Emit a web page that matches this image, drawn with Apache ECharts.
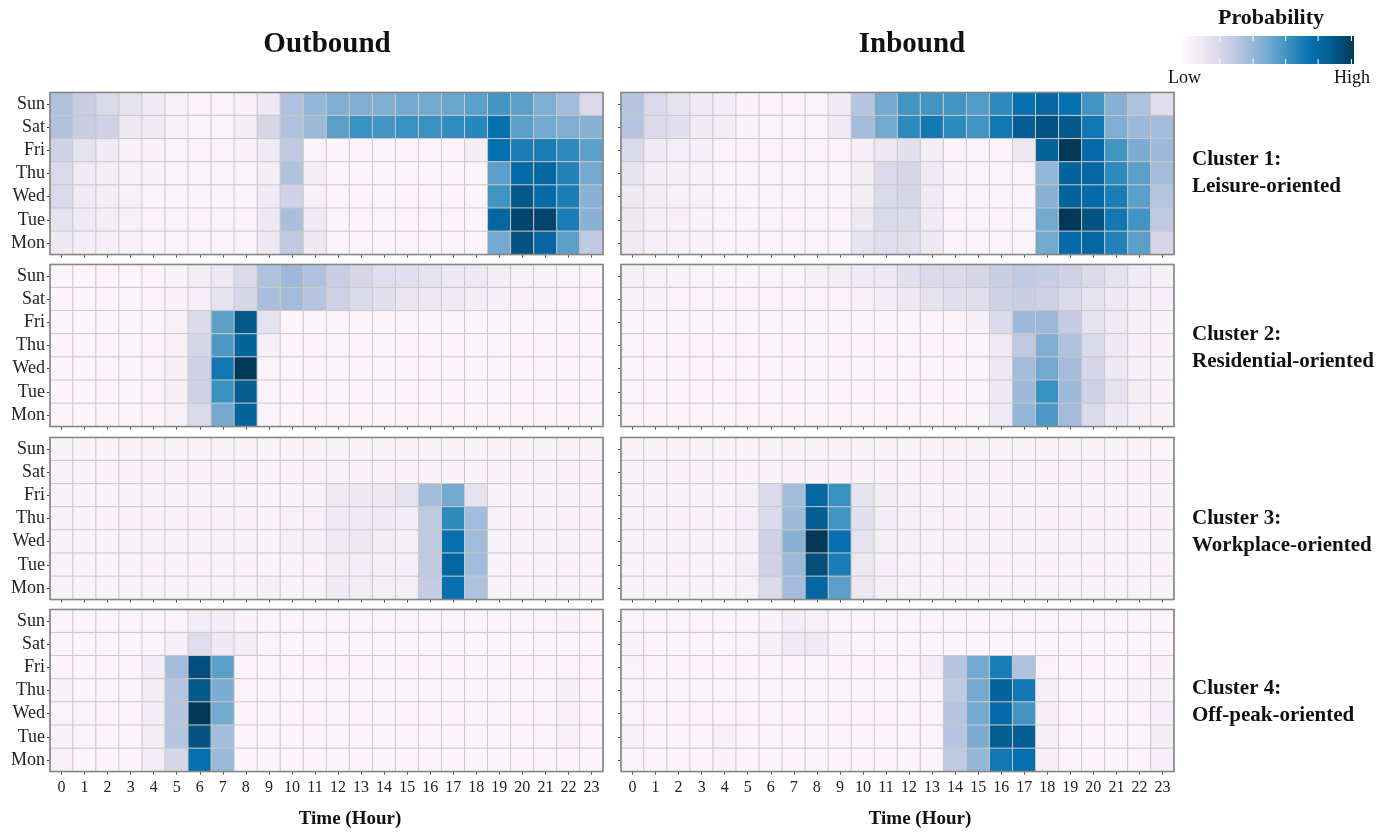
<!DOCTYPE html>
<html><head><meta charset="utf-8">
<script src="https://cdn.jsdelivr.net/npm/echarts@6/dist/echarts.min.js"></script>
<style>html,body{margin:0;padding:0;background:#fff}#c{width:1391px;height:834px}</style>
</head><body><div id="c"></div>
<script>
const hours = ['0','1','2','3','4','5','6','7','8','9','10','11','12','13','14','15','16','17','18','19','20','21','22','23'];
const days = ['Mon','Tue','Wed','Thu','Fri','Sat','Sun'];
const columnTitles = ['Outbound','Inbound'];
const clusterNames = [['Cluster 1:','Leisure-oriented'],['Cluster 2:','Residential-oriented'],['Cluster 3:','Workplace-oriented'],['Cluster 4:','Off-peak-oriented']];
const legendTitle = 'Probability';
const legendLabels = ['Low','High'];
const axisTitle = 'Time (Hour)';

// relative probability (0 = low, 1 = high); rows top to bottom: Sun, Sat, Fri, Thu, Wed, Tue, Mon
const c1Out = [
 [0.35,0.27,0.2,0.15,0.1,0.05,0.03,0.03,0.05,0.12,0.35,0.42,0.47,0.47,0.47,0.5,0.5,0.52,0.55,0.6,0.55,0.47,0.38,0.2],
 [0.35,0.27,0.25,0.12,0.1,0.05,0.03,0.03,0.08,0.22,0.35,0.4,0.55,0.62,0.6,0.62,0.62,0.64,0.66,0.75,0.55,0.5,0.47,0.45],
 [0.25,0.15,0.1,0.05,0.04,0.03,0.03,0.03,0.04,0.1,0.3,0.03,0.02,0.02,0.02,0.02,0.02,0.02,0.08,0.75,0.7,0.7,0.65,0.55],
 [0.2,0.1,0.08,0.05,0.04,0.03,0.03,0.03,0.03,0.08,0.35,0.08,0.02,0.02,0.02,0.02,0.02,0.02,0.02,0.55,0.78,0.8,0.68,0.5],
 [0.2,0.1,0.08,0.05,0.03,0.03,0.03,0.03,0.03,0.1,0.25,0.05,0.02,0.02,0.02,0.02,0.02,0.02,0.02,0.6,0.88,0.78,0.7,0.45],
 [0.15,0.1,0.08,0.05,0.03,0.03,0.03,0.03,0.03,0.12,0.37,0.1,0.02,0.02,0.02,0.02,0.02,0.02,0.02,0.8,0.95,0.95,0.7,0.45],
 [0.12,0.08,0.06,0.05,0.03,0.03,0.03,0.03,0.03,0.12,0.3,0.12,0.02,0.02,0.02,0.02,0.02,0.02,0.02,0.5,0.9,0.8,0.55,0.3]
];
const c1In = [
 [0.33,0.2,0.15,0.1,0.08,0.04,0.03,0.03,0.03,0.1,0.33,0.5,0.6,0.6,0.6,0.57,0.65,0.75,0.8,0.75,0.6,0.45,0.35,0.18],
 [0.33,0.2,0.17,0.1,0.08,0.04,0.03,0.03,0.03,0.1,0.38,0.5,0.65,0.72,0.65,0.6,0.72,0.85,0.9,0.88,0.72,0.47,0.4,0.38],
 [0.2,0.1,0.07,0.06,0.03,0.03,0.03,0.03,0.03,0.03,0.06,0.12,0.17,0.08,0.03,0.03,0.03,0.12,0.82,1.0,0.78,0.6,0.48,0.4],
 [0.15,0.08,0.06,0.05,0.03,0.03,0.03,0.03,0.03,0.03,0.08,0.2,0.22,0.1,0.04,0.03,0.03,0.03,0.42,0.82,0.8,0.65,0.55,0.38],
 [0.12,0.08,0.05,0.05,0.03,0.03,0.03,0.03,0.03,0.03,0.08,0.2,0.22,0.1,0.03,0.03,0.03,0.03,0.45,0.82,0.78,0.7,0.55,0.33],
 [0.12,0.07,0.05,0.04,0.03,0.03,0.03,0.03,0.03,0.03,0.12,0.2,0.2,0.1,0.03,0.03,0.03,0.03,0.5,1.0,0.9,0.72,0.6,0.3],
 [0.1,0.06,0.05,0.04,0.03,0.03,0.03,0.03,0.03,0.03,0.15,0.18,0.18,0.12,0.03,0.03,0.03,0.03,0.5,0.78,0.8,0.68,0.55,0.22]
];
const c2Out = [
 [0.02,0.02,0.02,0.02,0.02,0.04,0.08,0.12,0.2,0.35,0.4,0.35,0.27,0.22,0.18,0.17,0.15,0.12,0.12,0.08,0.05,0.04,0.03,0.03],
 [0.02,0.02,0.02,0.02,0.02,0.04,0.06,0.15,0.22,0.37,0.38,0.33,0.25,0.2,0.17,0.13,0.12,0.1,0.08,0.06,0.05,0.04,0.03,0.03],
 [0.02,0.02,0.02,0.02,0.02,0.05,0.2,0.55,0.88,0.15,0.02,0.02,0.02,0.02,0.02,0.02,0.02,0.02,0.02,0.02,0.02,0.02,0.02,0.02],
 [0.02,0.02,0.02,0.02,0.02,0.05,0.22,0.58,0.82,0.06,0.02,0.02,0.02,0.02,0.02,0.02,0.02,0.02,0.02,0.02,0.02,0.02,0.02,0.02],
 [0.02,0.02,0.02,0.02,0.03,0.06,0.25,0.72,1.0,0.03,0.02,0.02,0.02,0.02,0.02,0.02,0.02,0.02,0.02,0.02,0.02,0.02,0.02,0.02],
 [0.02,0.02,0.02,0.02,0.03,0.06,0.25,0.62,0.85,0.03,0.02,0.02,0.02,0.02,0.02,0.02,0.02,0.02,0.02,0.02,0.02,0.02,0.02,0.02],
 [0.02,0.02,0.02,0.02,0.02,0.05,0.2,0.5,0.82,0.03,0.02,0.02,0.02,0.02,0.02,0.02,0.02,0.02,0.02,0.02,0.02,0.02,0.02,0.02]
];
const c2In = [
 [0.06,0.05,0.04,0.03,0.03,0.03,0.03,0.03,0.06,0.08,0.1,0.12,0.17,0.2,0.2,0.22,0.27,0.3,0.28,0.25,0.2,0.15,0.1,0.06],
 [0.05,0.04,0.03,0.03,0.03,0.03,0.03,0.03,0.03,0.03,0.05,0.08,0.12,0.15,0.17,0.18,0.25,0.27,0.25,0.2,0.15,0.12,0.08,0.06],
 [0.02,0.02,0.02,0.02,0.02,0.02,0.02,0.02,0.02,0.02,0.02,0.02,0.02,0.02,0.02,0.06,0.2,0.4,0.4,0.28,0.15,0.1,0.06,0.04],
 [0.02,0.02,0.02,0.02,0.02,0.02,0.02,0.02,0.02,0.02,0.02,0.02,0.02,0.02,0.02,0.03,0.1,0.3,0.47,0.35,0.2,0.12,0.06,0.04],
 [0.02,0.02,0.02,0.02,0.02,0.02,0.02,0.02,0.02,0.02,0.02,0.02,0.02,0.02,0.02,0.03,0.12,0.38,0.5,0.38,0.22,0.12,0.06,0.04],
 [0.03,0.02,0.02,0.02,0.02,0.02,0.02,0.02,0.02,0.02,0.02,0.02,0.02,0.02,0.02,0.03,0.12,0.4,0.62,0.4,0.25,0.15,0.08,0.04],
 [0.02,0.02,0.02,0.02,0.02,0.02,0.02,0.02,0.02,0.02,0.02,0.02,0.02,0.02,0.02,0.03,0.1,0.42,0.58,0.38,0.2,0.12,0.06,0.04]
];
const c3Out = [
 [0.04,0.04,0.04,0.04,0.04,0.04,0.04,0.04,0.04,0.04,0.04,0.04,0.04,0.04,0.04,0.04,0.04,0.04,0.04,0.04,0.04,0.04,0.04,0.04],
 [0.04,0.04,0.04,0.04,0.04,0.04,0.04,0.04,0.04,0.04,0.04,0.04,0.04,0.04,0.04,0.04,0.04,0.04,0.04,0.04,0.04,0.04,0.04,0.04],
 [0.04,0.04,0.04,0.04,0.04,0.04,0.04,0.04,0.04,0.04,0.04,0.04,0.1,0.12,0.12,0.15,0.38,0.5,0.15,0.04,0.04,0.04,0.04,0.04],
 [0.04,0.04,0.04,0.04,0.04,0.04,0.04,0.04,0.04,0.04,0.05,0.05,0.1,0.1,0.1,0.08,0.3,0.65,0.38,0.04,0.04,0.04,0.04,0.04],
 [0.04,0.04,0.04,0.04,0.04,0.04,0.04,0.04,0.04,0.04,0.06,0.06,0.1,0.12,0.08,0.07,0.3,0.75,0.38,0.04,0.04,0.04,0.04,0.04],
 [0.04,0.04,0.04,0.04,0.04,0.04,0.04,0.04,0.04,0.04,0.04,0.04,0.08,0.08,0.07,0.07,0.3,0.8,0.38,0.04,0.04,0.04,0.04,0.04],
 [0.04,0.04,0.04,0.04,0.04,0.04,0.04,0.04,0.04,0.06,0.04,0.04,0.1,0.08,0.07,0.07,0.28,0.75,0.35,0.04,0.04,0.04,0.04,0.04]
];
const c3In = [
 [0.04,0.04,0.04,0.04,0.04,0.04,0.04,0.04,0.04,0.04,0.04,0.04,0.04,0.04,0.04,0.04,0.04,0.04,0.04,0.04,0.04,0.04,0.04,0.03],
 [0.04,0.04,0.04,0.04,0.04,0.04,0.04,0.04,0.04,0.04,0.04,0.04,0.04,0.04,0.04,0.04,0.04,0.04,0.04,0.04,0.04,0.04,0.04,0.04],
 [0.04,0.04,0.04,0.04,0.04,0.06,0.2,0.38,0.8,0.62,0.15,0.08,0.06,0.04,0.04,0.04,0.04,0.04,0.04,0.04,0.04,0.04,0.04,0.04],
 [0.04,0.04,0.04,0.04,0.04,0.06,0.2,0.4,0.85,0.6,0.17,0.08,0.06,0.05,0.04,0.04,0.04,0.04,0.04,0.04,0.04,0.04,0.04,0.04],
 [0.04,0.04,0.04,0.04,0.04,0.06,0.25,0.45,1.0,0.75,0.15,0.07,0.06,0.04,0.04,0.04,0.04,0.04,0.04,0.04,0.04,0.04,0.04,0.04],
 [0.04,0.04,0.04,0.04,0.04,0.06,0.25,0.4,0.92,0.7,0.12,0.06,0.05,0.04,0.04,0.04,0.04,0.04,0.04,0.04,0.04,0.04,0.04,0.04],
 [0.04,0.04,0.04,0.04,0.04,0.05,0.2,0.38,0.8,0.55,0.12,0.06,0.05,0.04,0.04,0.04,0.04,0.04,0.04,0.04,0.04,0.04,0.04,0.04]
];
const c4Out = [
 [0.02,0.02,0.02,0.02,0.02,0.03,0.08,0.08,0.04,0.03,0.02,0.02,0.02,0.02,0.02,0.02,0.02,0.02,0.02,0.02,0.02,0.02,0.04,0.02],
 [0.02,0.02,0.02,0.02,0.02,0.06,0.18,0.12,0.08,0.03,0.02,0.02,0.02,0.02,0.02,0.02,0.02,0.02,0.02,0.02,0.02,0.02,0.02,0.02],
 [0.02,0.02,0.02,0.02,0.08,0.38,0.92,0.55,0.02,0.02,0.02,0.02,0.02,0.02,0.02,0.02,0.02,0.02,0.02,0.02,0.02,0.02,0.02,0.02],
 [0.04,0.02,0.02,0.02,0.08,0.33,0.88,0.48,0.02,0.02,0.02,0.02,0.02,0.02,0.02,0.02,0.02,0.02,0.02,0.02,0.02,0.02,0.06,0.02],
 [0.03,0.03,0.02,0.02,0.08,0.33,1.0,0.5,0.02,0.02,0.02,0.02,0.02,0.02,0.02,0.02,0.02,0.02,0.02,0.02,0.02,0.02,0.05,0.02],
 [0.04,0.03,0.02,0.02,0.08,0.33,0.9,0.38,0.02,0.02,0.02,0.02,0.02,0.02,0.02,0.02,0.02,0.02,0.02,0.02,0.02,0.02,0.05,0.02],
 [0.05,0.02,0.02,0.02,0.08,0.22,0.75,0.4,0.02,0.02,0.02,0.02,0.02,0.02,0.02,0.02,0.02,0.02,0.02,0.02,0.02,0.02,0.02,0.02]
];
const c4In = [
 [0.02,0.02,0.02,0.02,0.02,0.02,0.04,0.08,0.05,0.02,0.02,0.02,0.02,0.02,0.02,0.02,0.02,0.02,0.02,0.02,0.02,0.02,0.02,0.02],
 [0.04,0.02,0.02,0.02,0.02,0.03,0.06,0.1,0.1,0.04,0.02,0.02,0.02,0.02,0.02,0.02,0.02,0.02,0.02,0.02,0.02,0.02,0.02,0.02],
 [0.03,0.02,0.02,0.02,0.02,0.02,0.02,0.02,0.02,0.02,0.02,0.02,0.02,0.08,0.33,0.5,0.7,0.35,0.03,0.02,0.02,0.02,0.02,0.04],
 [0.03,0.02,0.02,0.02,0.02,0.02,0.02,0.02,0.02,0.02,0.02,0.02,0.02,0.02,0.3,0.5,0.82,0.72,0.06,0.02,0.02,0.02,0.04,0.05],
 [0.03,0.02,0.02,0.02,0.02,0.02,0.02,0.02,0.02,0.02,0.02,0.02,0.02,0.02,0.33,0.5,0.78,0.6,0.06,0.02,0.02,0.02,0.02,0.06],
 [0.05,0.02,0.02,0.02,0.05,0.02,0.02,0.02,0.02,0.02,0.02,0.02,0.02,0.02,0.33,0.48,0.85,0.85,0.06,0.02,0.02,0.02,0.03,0.08],
 [0.03,0.02,0.02,0.02,0.04,0.02,0.02,0.02,0.02,0.02,0.02,0.02,0.02,0.02,0.3,0.42,0.72,0.75,0.06,0.02,0.02,0.02,0.02,0.06]
];
const panels = [[c1Out, c1In], [c2Out, c2In], [c3Out, c3In], [c4Out, c4In]];
const PuBu = ['#fff7fb','#ece7f2','#d0d1e6','#a6bddb','#74a9cf','#3690c0','#0570b0','#045a8d','#023858'];

const F = '"Liberation Serif","Times New Roman",serif';
const gridTops = [92.5, 264.5, 437.5, 609.5];
const gridH = 162;
const gridLefts = [50, 621];
const gridW = 553;

const grid = [], xAxis = [], yAxis = [], series = [];
let k = 0;
for (let i = 0; i < 4; i++) {
  for (let j = 0; j < 2; j++) {
    grid.push({left: gridLefts[j], top: gridTops[i], width: gridW, height: gridH,
      show: true, borderColor: '#858585', borderWidth: 1.6, backgroundColor: 'transparent', z: 10});
    const last = i === 3;
    xAxis.push({type: 'category', gridIndex: k, data: hours, position: 'bottom',
      axisLine: {show: false},
      axisTick: {show: true, alignWithLabel: true, interval: 0, length: 3, lineStyle: {color: '#444', width: 1}},
      axisLabel: {show: last, interval: 0, fontFamily: F, fontSize: 16, color: '#222', margin: 8},
      splitLine: {show: false}});
    yAxis.push({type: 'category', gridIndex: k, data: days,
      axisLine: {show: false},
      axisTick: {show: true, alignWithLabel: true, interval: 0, length: 3, lineStyle: {color: '#444', width: 1}},
      axisLabel: {show: j === 0, interval: 0, fontFamily: F, fontSize: 18, color: '#222', margin: 5},
      splitLine: {show: false}});
    const rows = panels[i][j];
    const data = [];
    rows.forEach((row, r) => row.forEach((v, h) => data.push([h, 6 - r, v])));
    series.push({type: 'heatmap', xAxisIndex: k, yAxisIndex: k, data: data,
      itemStyle: {borderColor: '#c8c8c8', borderWidth: 1},
      emphasis: {disabled: true}, silent: true});
    k++;
  }
}

function txt(s, x, y, size, bold, align) {
  return {type: 'text', x: x, y: y, style: {text: s, fontFamily: F, fontSize: size,
    fontWeight: bold ? 'bold' : 'normal', fill: '#111',
    align: align, textAlign: align, verticalAlign: 'middle', textVerticalAlign: 'middle'}};
}
const graphic = [];
const titleX = [327, 912];
columnTitles.forEach((t, j) => graphic.push(txt(t, titleX[j], 45, 29, true, 'center')));
const axisTitleX = [350, 920];
axisTitleX.forEach(x => graphic.push(txt(axisTitle, x, 819, 19, true, 'center')));
const clusterY = [160, 335, 519, 689];
clusterNames.forEach((c, i) => {
  graphic.push(txt(c[0], 1192, clusterY[i], 21, true, 'left'));
  graphic.push(txt(c[1], 1192, clusterY[i] + 27, 21, true, 'left'));
});
// colour legend
graphic.push(txt(legendTitle, 1271, 18, 22, true, 'center'));
graphic.push({type: 'rect', shape: {x: 1183, y: 36, width: 171, height: 28},
  style: {fill: new echarts.graphic.LinearGradient(0, 0, 1, 0, PuBu.map((c, n) => ({offset: n / (PuBu.length - 1), color: c})))}});
[0.215, 0.41, 0.6, 0.79, 0.985].forEach(p => {
  graphic.push({type: 'line', shape: {x1: 1183 + 171 * p, y1: 36, x2: 1183 + 171 * p, y2: 41}, style: {stroke: '#fff', lineWidth: 1}});
  graphic.push({type: 'line', shape: {x1: 1183 + 171 * p, y1: 59, x2: 1183 + 171 * p, y2: 64}, style: {stroke: '#fff', lineWidth: 1}});
});
graphic.push(txt(legendLabels[0], 1168, 78, 18, false, 'left'));
graphic.push(txt(legendLabels[1], 1370, 78, 18, false, 'right'));

const chart = echarts.init(document.getElementById('c'), null, {renderer: 'canvas'});
chart.setOption({
  backgroundColor: '#fff',
  animation: false,
  grid, xAxis, yAxis, series, graphic,
  visualMap: {show: false, min: 0, max: 1, dimension: 2, inRange: {color: PuBu}}
});
</script></body></html>
